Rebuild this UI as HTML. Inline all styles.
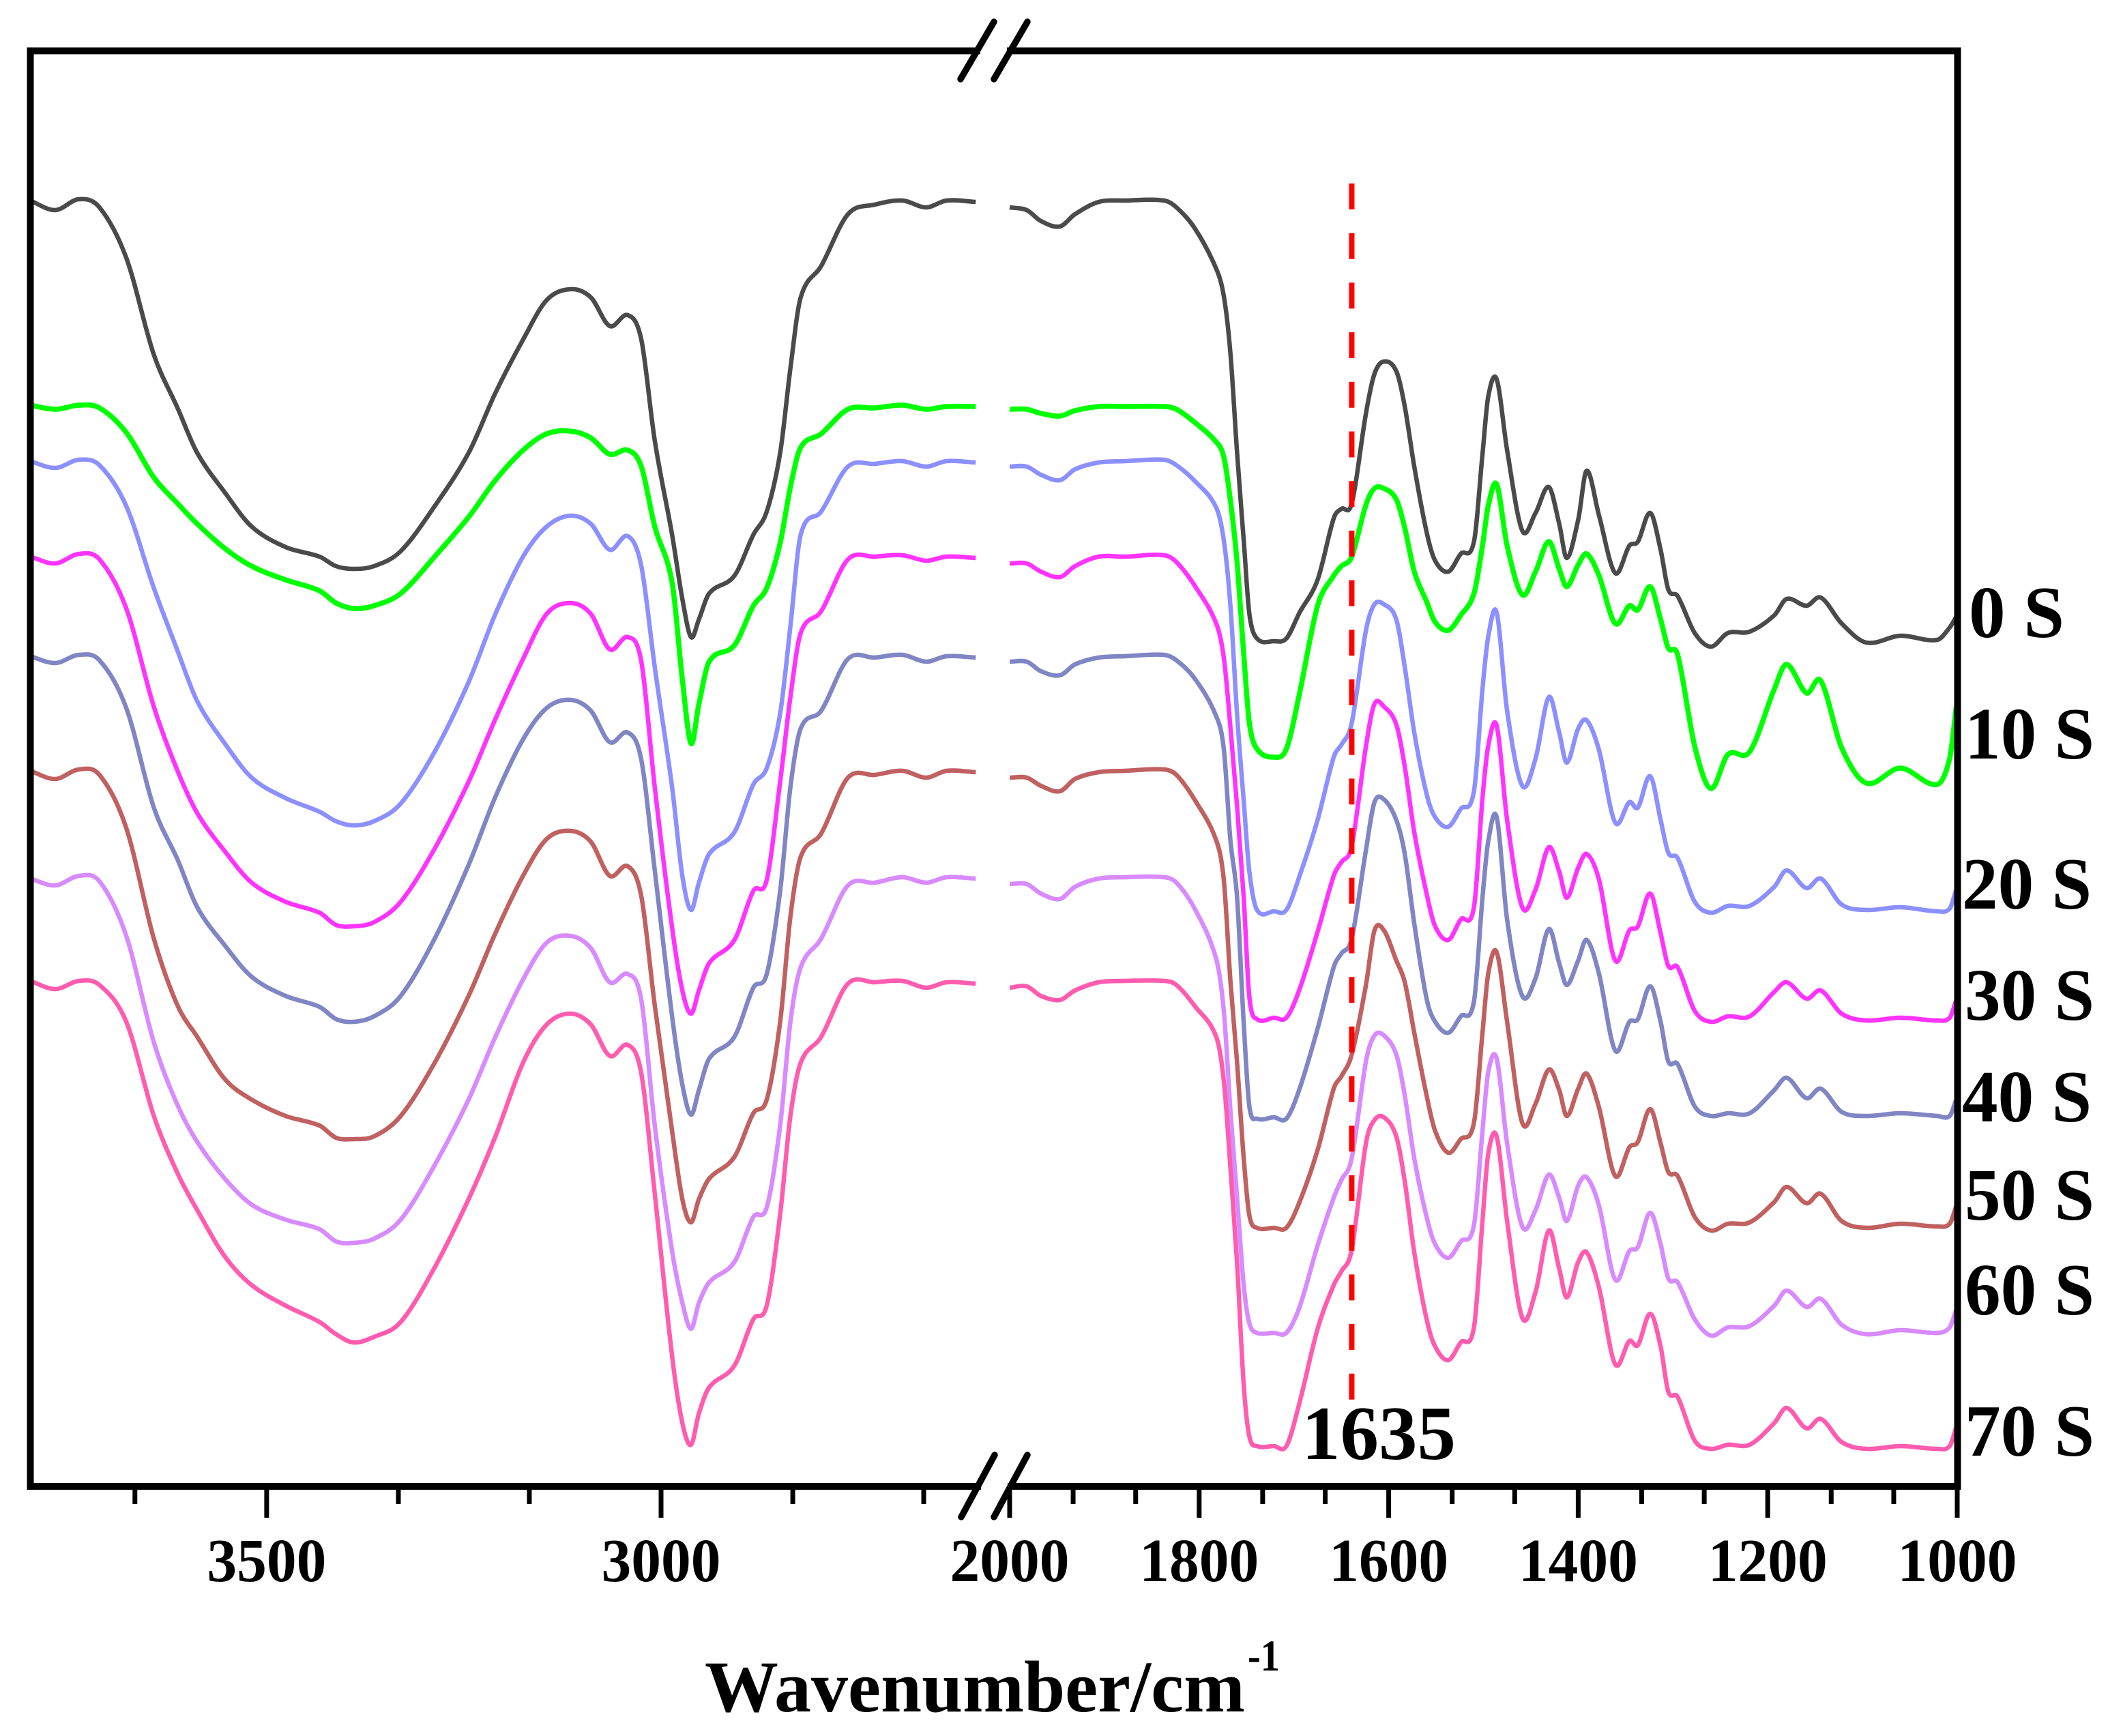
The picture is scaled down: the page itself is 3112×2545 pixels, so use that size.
<!DOCTYPE html>
<html lang="en">
<head>
<meta charset="utf-8">
<title>FTIR spectra</title>
<style>
html,body{margin:0;padding:0;background:#fff;width:3112px;height:2545px;overflow:hidden}
svg{display:block}
text{font-family:"Liberation Serif",serif;font-weight:bold;fill:#000}
</style>
</head>
<body>
<svg id="chart" xmlns="http://www.w3.org/2000/svg" width="3112" height="2545" viewBox="0 0 3112 2545">
  <g id="series-layer" fill="none" stroke-linejoin="round" stroke-linecap="butt"></g>
  <g id="axes" stroke="#000" stroke-width="10" fill="none" stroke-linecap="square">
    <line x1="44.5" y1="74.5" x2="44.5" y2="2179"/>
    <line x1="2869.5" y1="74.5" x2="2869.5" y2="2179"/>
    <line x1="44.5" y1="74.5" x2="1432" y2="74.5"/>
    <line x1="1481" y1="74.5" x2="2869.5" y2="74.5"/>
    <line x1="44.5" y1="2179" x2="1433" y2="2179"/>
    <line x1="1482" y1="2179" x2="2869.5" y2="2179"/>
  </g>
  <g stroke="#000" stroke-width="9.5" stroke-linecap="round">
    <line x1="1408" y1="116" x2="1457" y2="32"/>
    <line x1="1457" y1="116" x2="1506" y2="32"/>
    <line x1="1409" y1="2224" x2="1458" y2="2133"/>
    <line x1="1457" y1="2224" x2="1506" y2="2133"/>
  </g>
  <g id="tick-layer" stroke="#000" stroke-width="7"></g>
  <g id="label-layer" font-size="90" text-anchor="middle"></g>
  <line id="ref-line" stroke="#ff0000" stroke-width="8" stroke-dasharray="38 34.7" y1="269" y2="2053"/>
  <text x="1908" y="2139" font-size="112" textLength="226" lengthAdjust="spacingAndGlyphs">1635</text>
  <g font-size="108">
    <text x="2886" y="934" textLength="140" lengthAdjust="spacingAndGlyphs">0 S</text>
    <text x="2880" y="1112" textLength="190" lengthAdjust="spacingAndGlyphs">10 S</text>
    <text x="2876" y="1332" textLength="190" lengthAdjust="spacingAndGlyphs">20 S</text>
    <text x="2880" y="1495" textLength="190" lengthAdjust="spacingAndGlyphs">30 S</text>
    <text x="2876" y="1644" textLength="190" lengthAdjust="spacingAndGlyphs">40 S</text>
    <text x="2880" y="1788" textLength="190" lengthAdjust="spacingAndGlyphs">50 S</text>
    <text x="2880" y="1927" textLength="190" lengthAdjust="spacingAndGlyphs">60 S</text>
    <text x="2880" y="2134" textLength="190" lengthAdjust="spacingAndGlyphs">70 S</text>
  </g>
  <text x="1033" y="2509" font-size="107" textLength="792" lengthAdjust="spacingAndGlyphs">Wavenumber/cm</text>
  <text x="1829" y="2449" font-size="65" textLength="47" lengthAdjust="spacingAndGlyphs">-1</text>
</svg>
<script>
// wavenumber grids (cm-1) shared by the two panels of the broken axis
const wavenumbersLeft = [3800,3768,3738,3712,3678,3643,3613,3588,3553,3519,3476,3433,3412,3390,3364,3330,3287,3244,3210,3175,3145,3115,3089,3065,3042,3025,3008,2986,2973,2962,2952,2939,2907,2883,2866,2849,2836,2823,2797,2763,2729,2694,2664,2638,2601];
const wavenumbersRight = [2000,1982,1967,1947,1931,1906,1878,1837,1824,1804,1782,1774,1767,1760,1753,1747,1739,1721,1708,1694,1675,1658,1650,1639,1624,1615,1605,1592,1583,1573,1560,1551,1537,1524,1510,1501,1495,1486,1475,1459,1445,1431,1420,1412,1400,1391,1378,1361,1346,1337,1324,1313,1305,1295,1277,1260,1242,1219,1193,1180,1159,1144,1122,1096,1060,1021,1008,1001];

// intensity (a.u., stacked) for each series
const s0Left = [942,935,943,937,900,829,790,757,728,703,688,681,674,672,674,685,718,757,801,840,869,877,871,850,858,840,766,697,650,622,635,654,667,697,714,757,819,871,894,932,939,942,937,942,941];
const s0Right = [937,935,927,923,932,941,942,942,937,921,892,872,830,757,693,639,621,619,621,640,664,709,716,720,786,815,824,817,791,747,699,678,670,683,692,756,798,811,759,700,713,732,705,680,708,744,711,669,689,692,713,686,657,652,625,615,625,626,638,650,645,651,632,618,623,620,629,637];
const s10Left = [792,789,792,790,772,739,720,705,687,674,664,656,647,643,645,654,681,710,737,759,771,773,768,756,759,747,703,662,591,544,573,604,616,645,658,691,732,761,771,789,790,792,789,791,791];
const s10Right = [789,789,786,784,788,791,791,791,789,779,765,754,722,677,610,559,540,534,540,581,645,667,674,681,719,731,731,723,702,670,648,633,627,638,654,689,718,734,689,653,670,692,672,659,675,683,667,632,645,642,659,635,614,609,542,511,536,538,584,602,581,590,541,515,526,514,533,571];
const s20Left = [751,746,752,748,718,658,612,575,544,519,504,494,487,484,487,500,538,589,639,681,703,711,705,686,696,674,600,512,447,422,442,463,479,514,526,566,630,697,714,747,749,751,747,751,750];
const s20Right = [747,747,741,737,745,750,751,752,748,736,717,693,645,565,502,450,422,421,422,447,488,534,543,559,627,646,646,635,600,552,507,490,483,496,509,584,622,640,568,513,533,578,552,530,555,561,539,486,501,497,520,488,464,460,428,420,425,425,439,451,438,445,426,422,424,421,423,437];
const s30Left = [681,676,683,679,643,571,524,493,465,442,428,420,411,410,413,428,467,516,562,606,639,647,639,613,622,604,512,409,363,346,363,383,400,436,444,516,578,625,641,679,681,682,678,681,680];
const s30Right = [676,676,670,666,674,681,681,682,677,659,632,607,556,498,431,358,342,343,343,364,406,447,457,469,542,573,571,558,527,479,434,410,400,415,424,504,542,557,488,424,437,468,450,431,453,463,444,385,407,410,434,405,381,380,348,340,344,344,362,369,357,363,346,341,343,341,343,356];
const s40Left = [608,603,609,605,570,497,459,424,396,373,359,351,342,340,344,359,401,455,505,547,570,576,568,545,552,532,451,344,294,272,290,313,329,365,375,436,512,555,568,606,607,609,604,608,607];
const s40Right = [604,604,597,594,602,607,608,609,605,591,564,540,473,431,339,278,269,270,269,291,335,380,390,401,466,501,503,488,463,412,357,340,332,344,355,431,472,490,415,359,372,408,383,367,385,400,375,319,340,342,366,340,311,309,278,271,273,273,290,299,284,291,274,271,273,271,271,283];
const s50Left = [524,518,525,521,482,401,352,329,298,283,271,264,255,254,256,271,310,359,405,447,474,480,472,447,454,432,352,260,210,193,210,225,241,273,283,340,417,461,478,519,521,524,519,524,523];
const s50Right = [519,519,513,509,518,523,524,525,521,502,473,444,370,310,240,198,189,189,189,208,246,291,300,316,367,407,407,385,369,332,286,260,244,254,266,332,375,391,340,266,280,305,290,271,291,302,277,227,248,252,276,251,230,227,197,187,192,193,208,219,207,214,194,189,192,190,192,205];
const s60Left = [445,440,447,443,403,325,279,252,225,206,195,188,179,178,181,195,235,283,329,371,398,403,394,369,375,356,264,172,134,115,134,149,164,197,204,264,340,380,401,440,442,446,442,446,445];
const s60Right = [441,441,434,430,439,445,446,446,442,422,386,348,275,211,147,119,112,112,112,131,176,211,224,240,311,330,330,316,286,240,197,177,167,179,191,260,303,313,251,190,202,228,211,194,220,226,205,151,172,175,200,177,152,149,122,110,116,117,132,143,131,137,118,111,114,112,116,129];
const s70Left = [370,364,370,367,340,271,229,202,168,147,132,120,111,105,109,120,160,210,256,310,338,346,338,315,323,302,214,95,46,30,53,72,88,122,132,199,271,310,329,368,369,370,365,369,368];
const s70Right = [365,366,359,356,363,369,370,370,367,351,329,297,233,163,74,36,29,29,29,61,115,147,157,173,251,268,270,256,223,171,122,102,92,105,116,194,243,256,194,123,142,187,159,138,164,171,145,89,106,103,126,102,69,65,33,27,30,30,46,57,42,49,32,27,29,27,29,43];

const seriesNames = ['0s','10s','20s','30s','40s','50s','60s','70s'];
const seriesLeft = [s0Left,s10Left,s20Left,s30Left,s40Left,s50Left,s60Left,s70Left];
const seriesRight = [s0Right,s10Right,s20Right,s30Right,s40Right,s50Right,s60Right,s70Right];
const seriesColors = ['#4a4a4a','#00ff00','#8c90ff','#ff33ff','#8085c4','#c06060','#d88aff','#ff5cb0'];

// axis ticks
const majorTicksLeft = [3500,3000];
const minorTicksLeft = [3667,3333,3167,2833,2667];
const majorTicksRight = [2000,1800,1600,1400,1200,1000];
const minorTicksRight = [1933,1867,1733,1667,1533,1467,1333,1267,1133,1067];
const referenceWavenumber = [1639];

const NS = 'http://www.w3.org/2000/svg';
function xLeft(w){ return 44 + (3800 - w) * 1.15625; }
function xRight(w){ return 1480 + (2000 - w) * 1.389; }
function yScale(v){ return 2178 - 2 * v; }

// Hermite spline with tangents that account for uneven x spacing
function smoothPath(pts){
  const n = pts.length;
  const m = pts.map(function(p, i){
    const a = pts[Math.max(i - 1, 0)], b = pts[Math.min(i + 1, n - 1)];
    return (b[1] - a[1]) / (b[0] - a[0]);
  });
  let d = 'M' + pts[0][0].toFixed(1) + ' ' + pts[0][1].toFixed(1);
  for (let i = 0; i < n - 1; i++){
    const dx = pts[i + 1][0] - pts[i][0];
    const c1x = pts[i][0] + dx / 3, c1y = pts[i][1] + m[i] * dx / 3;
    const c2x = pts[i + 1][0] - dx / 3, c2y = pts[i + 1][1] - m[i + 1] * dx / 3;
    d += 'C' + c1x.toFixed(1) + ' ' + c1y.toFixed(1) + ' ' + c2x.toFixed(1) + ' ' + c2y.toFixed(1) + ' ' + pts[i + 1][0].toFixed(1) + ' ' + pts[i + 1][1].toFixed(1);
  }
  return d;
}

const seriesLayer = document.getElementById('series-layer');
seriesNames.forEach(function(name, i){
  const g = document.createElementNS(NS, 'g');
  
  
  g.setAttribute('stroke', seriesColors[i]);
  g.setAttribute('stroke-width', i === 1 ? '7.5' : '6.5');
  const left = document.createElementNS(NS, 'path');
  
  
  left.setAttribute('d', smoothPath(wavenumbersLeft.map(function(w, k){ return [xLeft(w), yScale(seriesLeft[i][k])]; })));
  g.appendChild(left);
  const right = document.createElementNS(NS, 'path');
  
  
  right.setAttribute('d', smoothPath(wavenumbersRight.map(function(w, k){ return [xRight(w), yScale(seriesRight[i][k])]; })));
  g.appendChild(right);
  seriesLayer.appendChild(g);
});

const tickLayer = document.getElementById('tick-layer');
const labelLayer = document.getElementById('label-layer');
function addTick(x, major, value){
  const t = document.createElementNS(NS, 'line');
  
  
  t.setAttribute('x1', x);
  t.setAttribute('x2', x);
  t.setAttribute('y1', 2180);
  t.setAttribute('y2', major ? 2225 : 2205);
  tickLayer.appendChild(t);
  if (major){
    const l = document.createElementNS(NS, 'text');
    
    
    l.setAttribute('x', x);
    l.setAttribute('y', 2318);
    l.setAttribute('textLength', '175');
    l.setAttribute('lengthAdjust', 'spacingAndGlyphs');
    l.textContent = String(value);
    labelLayer.appendChild(l);
  }
}
majorTicksLeft.forEach(function(w){ addTick(xLeft(w), true, w); });
minorTicksLeft.forEach(function(w){ addTick(xLeft(w), false, w); });
majorTicksRight.forEach(function(w){ addTick(xRight(w), true, w); });
minorTicksRight.forEach(function(w){ addTick(xRight(w), false, w); });

const ref = document.getElementById('ref-line');
ref.setAttribute('x1', xRight(referenceWavenumber[0]));
ref.setAttribute('x2', xRight(referenceWavenumber[0]));
</script>
</body>
</html>
